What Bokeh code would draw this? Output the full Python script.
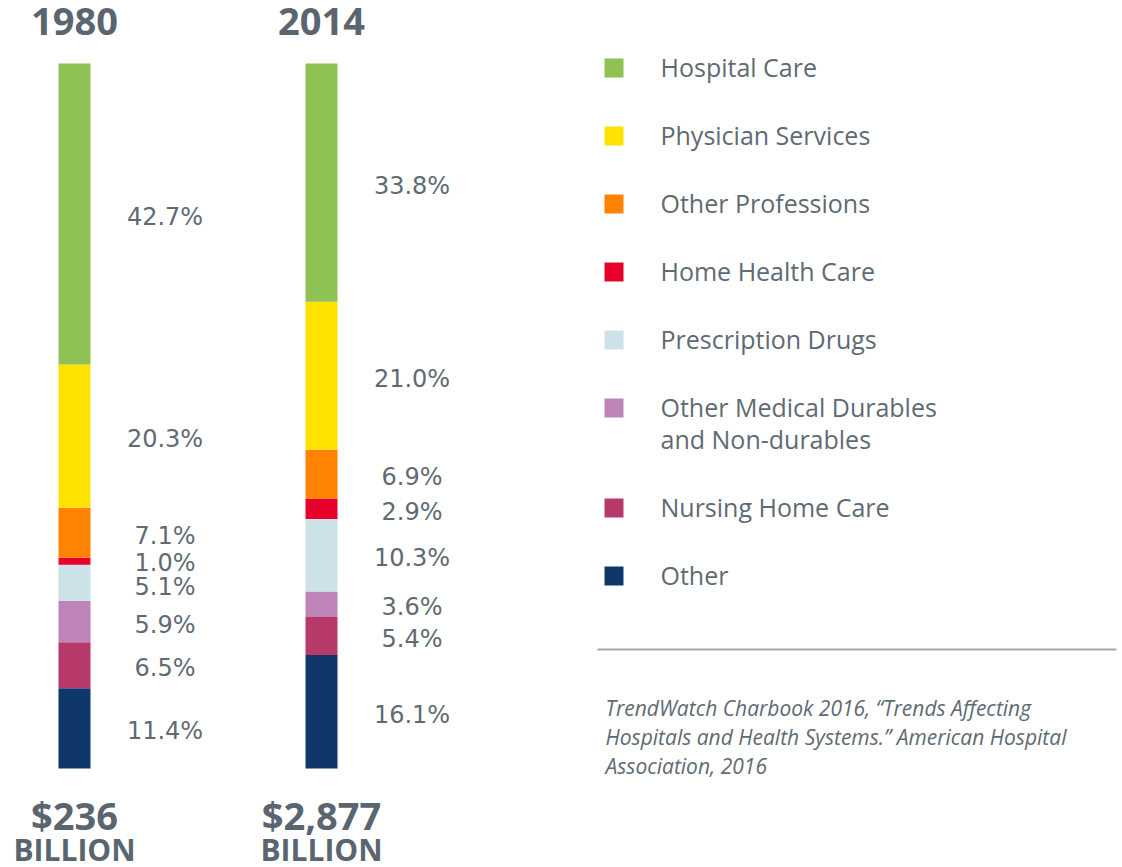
from bokeh.plotting import figure
from bokeh.models import Range1d, ColumnDataSource
from bokeh.core.properties import value
from bokeh.embed import file_html
from bokeh.resources import INLINE

# ---------------- data ----------------
years = ["1980", "2014"]
categories = [
    "Hospital Care",
    "Physician Services",
    "Other Professions",
    "Home Health Care",
    "Prescription Drugs",
    "Other Medical Durables\nand Non-durables",
    "Nursing Home Care",
    "Other",
]
share_1980 = [42.7, 20.3, 7.1, 1.0, 5.1, 5.9, 6.5, 11.4]
share_2014 = [33.8, 21.0, 6.9, 2.9, 10.3, 3.6, 5.4, 16.1]
totals = ["$236", "$2,877"]
total_unit = "BILLION"
colors = ["#8FC155", "#FFE200", "#FF8300", "#E8002C",
          "#CCE1E8", "#BE84B8", "#B6396A", "#10376A"]
source_lines = [
    "TrendWatch Charbook 2016, \u201cTrends Affecting",
    "Hospitals and Health Systems.\u201d American Hospital",
    "Association, 2016",
]

# ---------------- layout ----------------
W, H = 1122, 867
bar_top_px, bar_bot_px = 63, 768
ppp = (bar_bot_px - bar_top_px) / 100.0
bar_x = [74, 321]
bar_w = 32
label_dx = 90.5
TXT = "#5F6A73"
TITLE = "#5A6570"

p = figure(width=W, height=H, x_range=Range1d(0, W),
           y_range=Range1d(-(H - bar_bot_px) / ppp, 100 + bar_top_px / ppp),
           output_backend="svg", toolbar_location=None, min_border=0,
           x_axis_type=None, y_axis_type=None)
p.extra_y_ranges = {"px": Range1d(H, 0)}
p.grid.visible = False
p.outline_line_color = None
p.background_fill_color = "white"
p.border_fill_color = "white"

shares = [share_1980, share_2014]

seg = dict(x=[], bottom=[], top=[], color=[])
lab = dict(x=[], y=[], text=[])
for bi, vals in enumerate(shares):
    order = list(range(len(vals)))[::-1]   # stack from bottom
    base = 0.0
    centers = []
    for k in order:
        seg["x"].append(bar_x[bi])
        seg["bottom"].append(base)
        seg["top"].append(base + vals[k])
        seg["color"].append(colors[k])
        centers.append(base + vals[k] / 2.0)
        base += vals[k]
    ys = centers[:]
    min_gap = 3.3
    for _ in range(50):
        moved = False
        for i in range(len(ys) - 1):
            gap = ys[i + 1] - ys[i]
            if gap < min_gap - 1e-9:
                d = (min_gap - gap) / 2.0
                ys[i] -= d
                ys[i + 1] += d
                moved = True
        if not moved:
            break
    for j, k in enumerate(order):
        lab["x"].append(bar_x[bi] + label_dx)
        lab["y"].append(ys[j])
        lab["text"].append(f"{vals[k]:.1f}%")

p.vbar(x="x", bottom="bottom", top="top", width=bar_w, fill_color="color",
       line_color=None, source=ColumnDataSource(seg))

p.text(x="x", y="y", text="text", source=ColumnDataSource(lab),
       text_font=value("DejaVu Sans"), text_font_size="24px",
       text_color=TXT, text_align="center", text_baseline="alphabetic",
       y_offset=3)

# year titles
p.text(x=bar_x, y=[21, 21], text=years, y_range_name="px",
       text_font=value("Open Sans"), text_font_style="bold",
       text_font_size="38px", text_color=TITLE, text_align="center",
       text_baseline="alphabetic")
# totals
p.text(x=bar_x, y=[814, 814], text=totals, y_range_name="px",
       text_font=value("Open Sans"), text_font_style="bold",
       text_font_size="38px", text_color=TITLE, text_align="center",
       text_baseline="alphabetic")
p.text(x=bar_x, y=[849, 849], text=[total_unit, total_unit], y_range_name="px",
       text_font=value("Open Sans"), text_font_style="bold",
       text_font_size="30px", text_color=TITLE, text_align="center",
       text_baseline="alphabetic")

# legend
leg_sq_x, leg_txt_x = 613.5, 660
leg_y0, leg_step, line_h = 67.5, 68, 32
sq_y, tx, ty, tt = [], [], [], []
extra = 0
for i, name in enumerate(categories):
    yc = leg_y0 + leg_step * i + line_h * extra
    sq_y.append(yc)
    lines = name.split("\n")
    for li, ln in enumerate(lines):
        tx.append(leg_txt_x)
        ty.append(yc - 1 + li * line_h)
        tt.append(ln)
    extra += len(lines) - 1
p.scatter(x=[leg_sq_x] * len(categories), y=sq_y, marker="square", size=19,
          fill_color=colors, line_color=None, y_range_name="px")
p.text(x=tx, y=ty, text=tt, y_range_name="px",
       text_font=value("Open Sans"), text_font_size="25px",
       text_color=TXT, text_align="left", text_baseline="alphabetic")

# separator and source
p.segment(x0=[597], y0=[649], x1=[1116], y1=[649], y_range_name="px",
          line_color="#A3A8AD", line_width=2)
p.text(x=[605] * len(source_lines),
       y=[707.5 + 29 * i for i in range(len(source_lines))],
       text=source_lines, y_range_name="px",
       text_font=value("Open Sans"), text_font_style="italic",
       text_font_size="21px", text_color=TXT, text_align="left",
       text_baseline="alphabetic")

open("out.html", "w").write(file_html(p, INLINE))
